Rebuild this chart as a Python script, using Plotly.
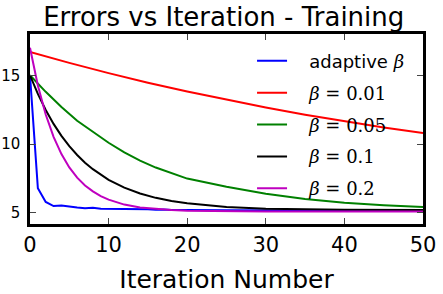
import plotly.graph_objects as go

# ---- data ----
blue_x = list(range(0, 21)) + [25, 30, 35, 40, 45, 50]
blue_y = [15.0, 6.8, 5.8, 5.5, 5.55, 5.45, 5.4, 5.35, 5.38, 5.3, 5.3, 5.27, 5.28, 5.25,
          5.25, 5.28, 5.24, 5.26, 5.22, 5.24, 5.22, 5.2, 5.2, 5.18, 5.18, 5.17, 5.17]

red_x = [0, 5, 10, 15, 20, 25, 30, 35, 40, 45, 50]
red_y = [16.7, 15.9, 15.16, 14.46, 13.82, 13.22, 12.66, 12.14, 11.66, 11.21, 10.8]

green_x = [0, 2, 4, 6, 8, 10, 12, 14, 16, 18, 20, 25, 30, 35, 40, 45, 50]
green_y = [15.0, 13.8, 12.7, 11.7, 10.9, 10.1, 9.4, 8.8, 8.3, 7.9, 7.5, 6.9, 6.4, 6.02,
           5.75, 5.56, 5.43]

black_x = [0, 1, 2, 3, 4, 5, 6, 7, 8, 9, 10, 12, 14, 16, 18, 20, 25, 30, 40, 50]
black_y = [15.0, 13.65, 12.48, 11.47, 10.6, 9.85, 9.21, 8.65, 8.18, 7.77, 7.41, 6.84,
           6.42, 6.1, 5.87, 5.7, 5.44, 5.31, 5.23, 5.21]

mag_x = [0, 1, 2, 3, 4, 5, 6, 7, 8, 9, 10, 12, 14, 16, 18, 20, 25, 30, 40, 50]
mag_y = [17.0, 14.26, 12.15, 10.53, 9.28, 8.31, 7.57, 7.0, 6.57, 6.23, 5.97, 5.61, 5.4,
         5.28, 5.21, 5.16, 5.12, 5.1, 5.1, 5.1]

x_ticks = [0, 10, 20, 30, 40, 50]
y_ticks = [5, 10, 15]

SERIF = "'DejaVu Serif', serif"
PAD = "\u00a0\u00a0\u00a0"
def math(s):
    return f"<span style=\"font-family:{SERIF};font-style:italic\">{s}</span>"
def num(s):
    return f"<span style=\"font-family:{SERIF}\">{s}</span>"

names = [
    PAD + "adaptive " + math("β"),
    PAD + math("β") + num(" = 0.01"),
    PAD + math("β") + num(" = 0.05"),
    PAD + math("β") + num(" = 0.1"),
    PAD + math("β") + num(" = 0.2"),
]
series = [(blue_x, blue_y, "#0000ff"), (red_x, red_y, "#ff0000"),
          (green_x, green_y, "#008000"), (black_x, black_y, "#000000"),
          (mag_x, mag_y, "#bf00bf")]

fig = go.Figure()
for (xs, ys, c), n in zip(series, names):
    fig.add_trace(go.Scatter(x=xs, y=ys, mode="lines", name=n,
                             line=dict(color=c, width=2), legendgroup=n))

fig.update_layout(
    width=443, height=294,
    margin=dict(l=30, r=20, t=34, b=70, autoexpand=False),
    paper_bgcolor="white", plot_bgcolor="white",
    font=dict(family="DejaVu Sans", color="black", size=15),
    title=dict(text="Errors vs Iteration - Training", x=0.505, xanchor="center",
               y=1 - 17 / 294, yanchor="middle", font=dict(size=26)),
    legend=dict(x=0.565, y=0.955, xanchor="left", yanchor="top",
                bgcolor="rgba(0,0,0,0)", font=dict(size=18), tracegroupgap=5.5,
                itemwidth=30),
    showlegend=True,
)
fig.update_xaxes(range=[0, 50], tickvals=x_ticks, ticks="inside", ticklen=6,
                 tickwidth=1, mirror="ticks", showline=True, linewidth=2.5,
                 linecolor="black", showgrid=False, zeroline=False, automargin=False,
                 tickfont=dict(size=21),
                 title=dict(text="Iteration Number", font=dict(size=25), standoff=15))
fig.update_yaxes(range=[4.2, 18], tickvals=y_ticks, ticks="inside", ticklen=6,
                 tickwidth=1, mirror="ticks", showline=True, linewidth=2.5,
                 linecolor="black", showgrid=False, zeroline=False, automargin=False,
                 ticklabelstandoff=4, tickfont=dict(size=15))

fig.write_html("out.html", config={"displayModeBar": False},
               post_script="document.body.style.margin='0';")
